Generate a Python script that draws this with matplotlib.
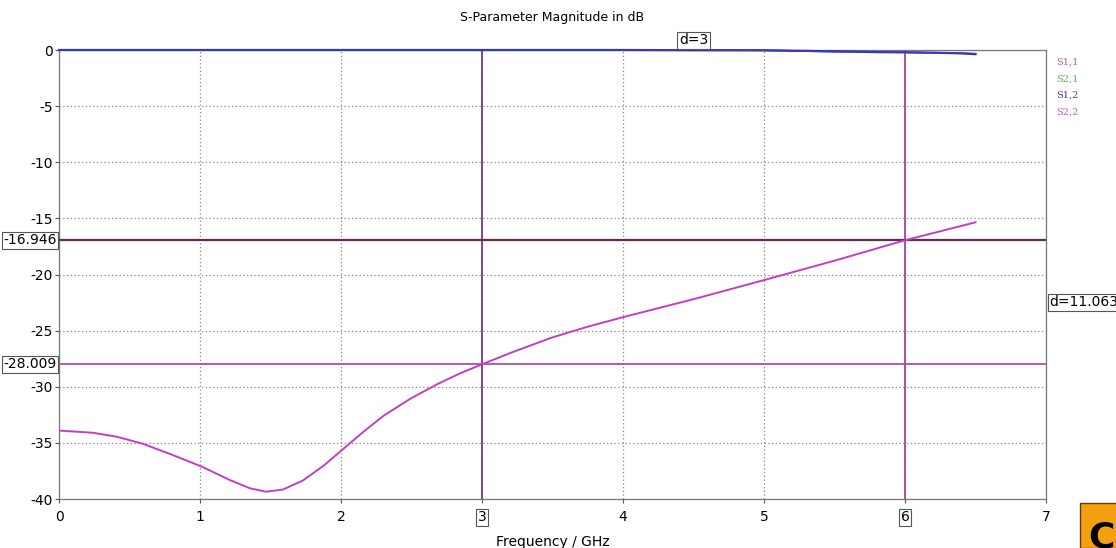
import matplotlib
matplotlib.use("Agg")
import matplotlib.pyplot as plt
from matplotlib.patches import Rectangle

plt.rcParams["axes.unicode_minus"] = False

# ---- data ----
freq_s22 = [0.0, 0.24, 0.41, 0.6, 0.81, 1.01, 1.21, 1.355, 1.47, 1.59, 1.73, 1.875,
            2.01, 2.16, 2.3, 2.49, 2.68, 2.84, 3.0, 3.22, 3.5, 3.75, 4.0, 4.5, 5.0,
            5.5, 6.0, 6.5]
s22_db = [-33.9, -34.1, -34.45, -35.1, -36.1, -37.1, -38.3, -39.05, -39.35, -39.15,
          -38.35, -37.05, -35.6, -34.0, -32.6, -31.08, -29.79, -28.83, -28.0, -26.9,
          -25.6, -24.65, -23.8, -22.2, -20.5, -18.77, -16.95, -15.35]
freq_tr = [0, 1, 2, 3, 4, 4.5, 5, 5.3, 5.5, 5.8, 6.0, 6.2, 6.4, 6.5]
s21_db = [0, 0, 0, 0, 0, 0, -0.02, -0.1, -0.15, -0.17, -0.2, -0.26, -0.29, -0.33]
s12_db = [0, 0, 0, 0, 0, -0.02, -0.03, -0.08, -0.12, -0.19, -0.21, -0.24, -0.3, -0.37]
marker_x = [3, 6]
marker_y = [-16.946, -28.009]
legend_names = ["S1,1", "S2,1", "S1,2", "S2,2"]
legend_colors = ["#c06070", "#60b060", "#404080", "#c060c0"]
xticks = [0, 1, 2, 3, 4, 5, 6, 7]
yticks = [0, -5, -10, -15, -20, -25, -30, -35, -40]

W, H = 1116, 548
fig = plt.figure(figsize=(W / 100, H / 100), dpi=100)
ax = fig.add_axes([59 / W, 1 - 499 / H, (1046 - 59) / W, (499 - 50) / H])

ax.set_xlim(0, 7)
ax.set_ylim(-40, 0)
ax.set_xticks(xticks)
ax.set_yticks(yticks)
ax.grid(True, color="#888888", linestyle=(0, (1, 2)), linewidth=0.9)
ax.tick_params(direction="out", length=3, width=0.8, color="#555555", labelsize=10)
ax.tick_params(axis="x", pad=5)
ax.tick_params(axis="y", pad=1.5)
for sp in ax.spines.values():
    sp.set_color("#777777")
    sp.set_linewidth(0.9)

# marker lines
ax.axvline(marker_x[0], color="#7a3a82", lw=1.3, zorder=3)
ax.axvline(marker_x[1], color="#a8449a", lw=1.3, zorder=3)
ax.axhline(marker_y[0], color="#5e2d55", lw=1.6, zorder=3)
ax.axhline(marker_y[1], color="#b0509c", lw=1.3, zorder=3)

# curves
ax.plot(freq_s22, s22_db, color="#c040c0", lw=1.4, zorder=4)
ax.plot(freq_tr, s12_db, color="#303070", lw=1.6, zorder=4, clip_on=False)
ax.plot(freq_tr, s21_db, color="#3a3ad0", lw=1.2, zorder=4, clip_on=False)

box = dict(boxstyle="square,pad=0.1", fc="white", ec="#555555", lw=0.8)

# y marker labels
ytr = ax.get_yaxis_transform()
for yv in marker_y:
    ax.text(-0.002, yv, f"{yv:.3f}", transform=ytr, ha="right", va="center",
            fontsize=10, bbox=box, zorder=6, clip_on=False)

# x tick labels: boxed for marker positions
fig.canvas.draw()
for lab in ax.get_xticklabels():
    try:
        v = float(lab.get_text().replace("\u2212", "-"))
    except ValueError:
        continue
    if v in marker_x:
        lab.set_bbox(box)

# delta labels
dx = marker_x[1] - marker_x[0]
ax.text((marker_x[0] + marker_x[1]) / 2, 0.25, f"d={dx:g}", ha="center", va="bottom",
        fontsize=10, bbox=box, clip_on=False, zorder=6)
dy = marker_y[0] - marker_y[1]
ax.text(1.003, (marker_y[0] + marker_y[1]) / 2, f"d={dy:.3f}", transform=ytr,
        ha="left", va="center", fontsize=10, bbox=box, clip_on=False, zorder=6)

# legend as text
for i, (nm, c) in enumerate(zip(legend_names, legend_colors)):
    fig.text(1056 / W, 1 - (62 + i * 16.7) / H, nm, color=c, fontsize=7,
             ha="left", va="center", family="DejaVu Serif")

ax.set_title("S-Parameter Magnitude in dB", fontsize=9, pad=21)
ax.set_xlabel("Frequency / GHz", fontsize=10, labelpad=8)

# logo corner
logo = Rectangle((1080 / W, 0), 40 / W, 45 / H, transform=fig.transFigure,
                 facecolor="#f5a010", edgecolor="#6b3a00", lw=1.0)
fig.patches.append(logo)
ct = fig.text(1088 / W, -6 / H, "C", fontsize=26, fontweight="bold", color="black",
              ha="left", va="bottom")
ct.set_clip_path(logo)

fig.savefig("out.png", dpi=100)
